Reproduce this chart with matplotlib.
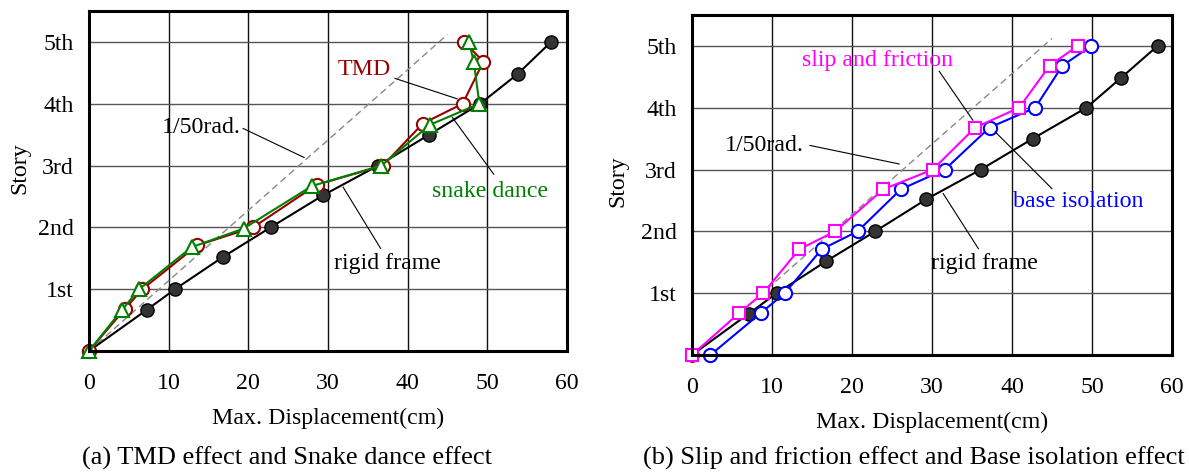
import matplotlib
matplotlib.use("Agg")
import matplotlib.pyplot as plt

plt.rcParams['font.family'] = ['Liberation Serif', 'DejaVu Serif']

# ---------------- data ----------------
story_ticks = [1, 2, 3, 4, 5]
story_labels = ['1st', '2nd', '3rd', '4th', '5th']
x_ticks = [0, 10, 20, 30, 40, 50, 60]

rigid_y = [0, 0.67, 1.0, 1.52, 2.0, 2.52, 3.0, 3.5, 4.0, 4.48, 5.0]
rigid_x_a = [0, 7.3, 10.8, 16.8, 22.8, 29.4, 36.3, 42.7, 49.1, 53.8, 58.0]
rigid_x_b = [0, 7.1, 10.6, 16.8, 22.9, 29.3, 36.1, 42.6, 49.3, 53.6, 58.2]

tmd_x = [0, 4.5, 6.7, 13.6, 20.6, 28.6, 36.9, 41.9, 46.9, 49.5, 47.1]
tmd_y = [0, 0.68, 1.0, 1.71, 2.0, 2.69, 3.0, 3.68, 4.0, 4.68, 5.0]

snake_x = [0, 4.1, 6.3, 12.9, 19.4, 28.0, 36.7, 42.8, 49.0, 48.3, 47.7]
snake_y = [0, 0.66, 1.0, 1.68, 1.98, 2.67, 3.0, 3.66, 4.0, 4.68, 5.0]

slip_x = [0, 5.9, 8.9, 13.4, 17.9, 23.9, 30.1, 35.4, 40.9, 44.7, 48.2]
slip_y = [0, 0.68, 1.0, 1.71, 2.0, 2.68, 3.0, 3.68, 4.0, 4.68, 5.0]

base_x = [2.3, 8.6, 11.6, 16.2, 20.7, 26.1, 31.6, 37.2, 42.9, 46.3, 49.9]
base_y = [0, 0.68, 1.0, 1.71, 2.0, 2.68, 3.0, 3.68, 4.0, 4.68, 5.0]

rad_x = [0, 45.0]
rad_y = [0, 5.12]

FS = 17.2
CAP_FS = 19
W, H = 1189, 473
fig = plt.figure(figsize=(W / 100, H / 100), dpi=100)


def px_axes(l, t, r, b):
    return fig.add_axes([l / W, 1 - b / H, (r - l) / W, (b - t) / H])


axA = px_axes(89, 11, 567, 351)
axB = px_axes(692, 15, 1172, 355)


def style(ax):
    ax.set_xlim(0, 60)
    ax.set_ylim(0, 5.5)
    ax.set_xticks(x_ticks)
    ax.set_xticklabels([str(v) for v in x_ticks])
    ax.set_yticks(story_ticks)
    ax.set_yticklabels(story_labels)
    ax.tick_params(axis='both', length=0, labelsize=FS)
    ax.tick_params(axis='x', pad=16)
    ax.tick_params(axis='y', pad=11)
    ax.xaxis.grid(True, color='#111111', lw=1.0)
    ax.yaxis.grid(True, color='#555555', lw=1.0)
    ax.set_axisbelow(True)
    for s in ax.spines.values():
        s.set_linewidth(2.2)
        s.set_color('black')
        s.set_zorder(5)
    ax.set_xlabel('Max. Displacement(cm)', fontsize=FS, labelpad=10)
    ax.plot(rad_x, rad_y, color='#888888', lw=1.0, dashes=(5, 3), zorder=2)


style(axA)
style(axB)

ms = 9.5
# panel (a)
axA.plot(rigid_x_a, rigid_y, color='black', lw=1.5, marker='o', ms=ms,
         mfc='#333333', mec='black', mew=1.0, zorder=3, clip_on=False)
axA.plot(tmd_x, tmd_y, color='#990000', lw=1.5, marker='o', ms=ms,
         mfc='white', mec='#990000', mew=1.5, zorder=4, clip_on=False)
axA.plot(snake_x, snake_y, color='#008000', lw=1.5, marker='^', ms=ms,
         mfc='white', mec='#008000', mew=1.5, zorder=4, clip_on=False)

# panel (b)
axB.plot(rigid_x_b, rigid_y, color='black', lw=1.5, marker='o', ms=ms,
         mfc='#333333', mec='black', mew=1.0, zorder=3, clip_on=False)
axB.plot(base_x, base_y, color='#0000ff', lw=1.5, marker='o', ms=ms,
         mfc='white', mec='#0000ff', mew=1.5, zorder=4, clip_on=False)
axB.plot(slip_x, slip_y, color='#ff00ff', lw=1.5, marker='s', ms=ms - 0.5,
         mfc='white', mec='#ff00ff', mew=1.5, zorder=4, clip_on=False)


def leader(ax, p0, p1):
    ax.plot([p0[0], p1[0]], [p0[1], p1[1]], color='black', lw=0.8, zorder=6)


# annotations (a)
axA.text(19.0, 3.61, '1/50rad.', fontsize=FS, ha='right', va='center')
leader(axA, (19.35, 3.60), (27.0, 3.13))
axA.text(34.5, 4.56, 'TMD', fontsize=FS, color='#990000', ha='center', va='center')
leader(axA, (38.4, 4.41), (46.2, 4.08))
axA.text(50.3, 2.58, 'snake dance', fontsize=FS, color='#008000', ha='center', va='center')
leader(axA, (45.6, 3.78), (50.8, 2.86))
axA.text(37.4, 1.41, 'rigid frame', fontsize=FS, ha='center', va='center')
leader(axA, (31.9, 2.65), (36.6, 1.66))

# annotations (b)
axB.text(23.2, 4.77, 'slip and friction', fontsize=FS, color='#ff00ff', ha='center', va='center')
leader(axB, (30.9, 4.59), (35.1, 3.80))
axB.text(9.1, 3.39, '1/50rad.', fontsize=FS, ha='center', va='center')
leader(axB, (14.75, 3.39), (25.9, 3.09))
axB.text(48.3, 2.49, 'base isolation', fontsize=FS, color='#0000ff', ha='center', va='center')
leader(axB, (37.9, 3.61), (45.0, 2.69))
axB.text(36.6, 1.48, 'rigid frame', fontsize=FS, ha='center', va='center')
leader(axB, (31.4, 2.61), (35.8, 1.72))

# y labels
fig.text(20 / W, 1 - 168 / H, 'Story', fontsize=FS, rotation=90, ha='center', va='center')
fig.text(618 / W, 1 - 181 / H, 'Story', fontsize=FS, rotation=90, ha='center', va='center')

# captions
fig.text(82 / W, 1 - 458 / H, '(a) TMD effect and Snake dance effect', fontsize=CAP_FS,
         ha='left', va='center')
fig.text(1185 / W, 1 - 458 / H, '(b) Slip and friction effect and Base isolation effect',
         fontsize=CAP_FS, ha='right', va='center')

fig.savefig('out.png', dpi=100)
